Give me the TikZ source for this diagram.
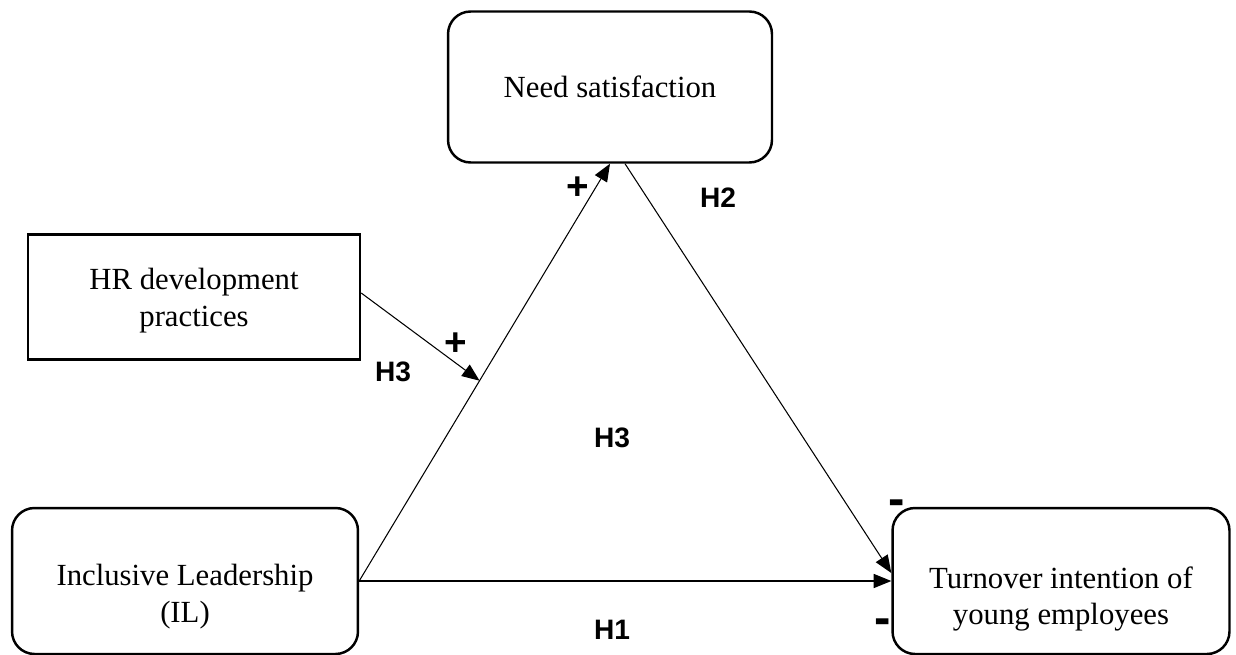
\documentclass[tikz,border=0pt]{standalone}
\usepackage{fontspec}
\setmainfont{Liberation Serif}
\setsansfont{Liberation Sans}
\usetikzlibrary{arrows.meta}

\begin{document}
\begin{tikzpicture}
  [x=0.02cm,y=-0.02cm,
   box/.style={draw,line width=1.4pt,inner sep=0pt},
   rbox/.style={box,rounded corners=0.45cm},
   txt/.style={align=center,font=\fontsize{17.5}{21}\selectfont},
   hyp/.style={font=\sffamily\bfseries\fontsize{16}{18}\selectfont},
   sign/.style={font=\sffamily\bfseries\fontsize{22}{24}\selectfont},
   link/.style={line width=0.6pt,-{Triangle[length=10pt,width=8pt]}}]
  \useasboundingbox (0,0) rectangle (1236,655);

  \node[rbox,minimum width=6.48cm,minimum height=3.02cm] (need) at (610,87) {};
  \node[txt] (needtxt) at (610,87) {Need satisfaction};
  \node[box,minimum width=6.64cm,minimum height=2.5cm] (hr) at (194,297) {};
  \node[txt] (hrtxt) at (194,301) {HR development\\practices};
  \node[rbox,minimum width=6.92cm,minimum height=2.92cm] (il) at (185,581) {};
  \node[txt] (iltxt) at (185,597) {Inclusive Leadership\\(IL)};
  \node[rbox,minimum width=6.74cm,minimum height=2.92cm] (turn) at (1061,581) {};
  \node[txt] (turntxt) at (1061,599) {Turnover intention of\\young employees};

  \path (il.east) -- (need.south) coordinate[pos=0.48] (mod);

  \draw[link] (il.east) -- (need.south);
  \draw[link] ([xshift=0.3cm]need.south) -- ([yshift=0.16cm]turn.west);
  \draw[link] (il.east) -- (turn.west);
  \draw[link] (hr.east |- 0,293) -- (mod);

  \node[sign] (p1) at (578,188) {+};
  \node[hyp] (h2) at (718,198) {H2};
  \node[sign] (p2) at (456,344) {+};
  \node[hyp] (h3a) at (393,372) {H3};
  \node[hyp] (h3b) at (612,438) {H3};
  \node[sign,font=\sffamily\bfseries\fontsize{28}{30}\selectfont] (m1) at (897,508) {-};
  \node[sign,font=\sffamily\bfseries\fontsize{28}{30}\selectfont] (m2) at (883,627) {-};
  \node[hyp] (h1) at (612,630) {H1};
\end{tikzpicture}
\end{document}
